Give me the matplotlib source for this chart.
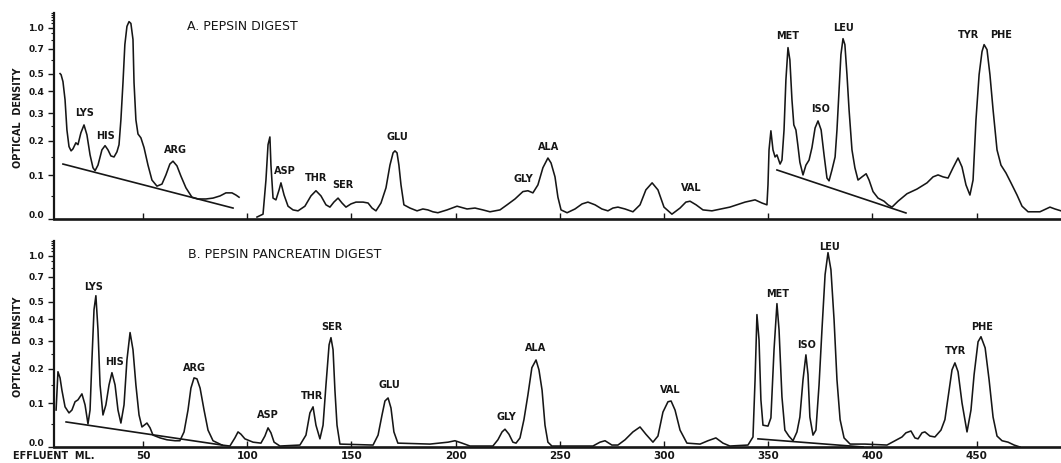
import numpy as np
import matplotlib
matplotlib.use("Agg")
import matplotlib.pyplot as plt
from matplotlib.transforms import ScaledTranslation

# ---------------- data (effluent ml, optical density) ----------------
top_ml_a = [10.2, 10.7, 11.6, 12.6, 13.5, 14.5, 15.5, 16.4, 17.8, 18.8, 20.2, 21.7, 23.1, 24.6, 26.0,
            27.0, 28.4, 30.3, 31.8, 33.2, 34.6, 36.1, 37.5, 38.5, 39.4, 40.4, 41.3, 42.3, 43.3, 44.2,
            45.2, 45.7, 46.6, 47.6, 49.0, 50.5, 52.4, 54.3, 56.7, 59.1, 61.0, 62.9, 64.4, 66.3, 68.2,
            70.6, 73.5, 76.4, 80.2, 83.6, 87.0, 89.8, 92.7, 94.6, 96.1]
top_od_a = [.501, .494, .452, .358, .236, .181, .168, .174, .193, .187, .226, .254, .219, .156, .120,
            .112, .127, .171, .184, .171, .153, .150, .165, .187, .273, .446, .747, 1.03, 1.15, 1.10,
            .81, .446, .273, .222, .209, .178, .127, .088, .073, .078, .101, .130, .138, .125, .098,
            .069, .047, .043, .043, .045, .050, .057, .057, .052, .047]

top_ml_b = [104.7, 107.6, 109.0, 110.0, 110.9, 111.4, 112.4, 113.8, 115.3, 116.2, 117.7, 119.6, 122.0,
            124.4, 127.7, 130.6, 133.0, 135.4, 137.8, 139.7, 141.6, 143.6, 145.5, 147.4, 149.8, 152.2,
            155.6, 158.0, 159.9, 161.8, 164.2, 166.6, 168.5, 170.0, 170.9, 171.9, 172.8, 173.8, 175.2,
            178.1, 181.5, 184.3, 186.7, 189.1, 191.5, 195.9, 200.7, 205.5, 209.3, 213.1, 216.5, 221.3,
            224.7, 228.5, 232.3, 234.7, 237.1, 239.5, 241.9, 244.3, 245.8, 247.7, 249.1, 250.6, 253.5,
            257.3, 260.7, 263.5, 266.9, 270.2, 273.1, 275.5, 277.9, 281.3, 285.1, 288.5, 291.3, 294.3,
            297.1, 300.0, 303.8, 307.7, 310.5, 312.5, 315.4, 318.7, 323.0, 331.6, 338.9, 343.7, 347.0,
            349.4, 349.9, 350.4, 351.3, 352.3, 353.3, 354.2, 355.7, 356.6, 357.6, 358.5, 359.5, 360.4,
            361.4, 362.3, 363.3, 364.2, 365.2, 366.7, 368.1, 369.6, 371.0, 372.5, 373.9, 375.4, 376.8,
            378.2, 379.2, 380.6, 382.1, 383.0, 384.0, 384.9, 385.9, 386.8, 387.8, 388.8, 390.2, 391.6,
            393.1, 395.0, 397.0, 398.4, 400.3, 402.7, 405.6, 407.5, 409.4, 412.3, 416.6, 421.4, 426.2,
            429.1, 431.5, 433.9, 436.3, 438.7, 441.1, 443.0, 444.9, 446.8, 448.3, 449.7, 451.2, 452.6,
            453.6, 455.0, 456.4, 457.9, 459.8, 461.7, 464.1, 466.5, 469.4, 471.8, 474.7, 480.4, 483.3,
            485.2, 487.6, 490.5]
top_od_b = [.004, .010, .088, .187, .212, .127, .045, .041, .064, .081, .052, .027, .019,
            .017, .027, .050, .062, .050, .030, .025, .036, .045, .034, .025, .032, .036,
            .036, .034, .023, .017, .034, .069, .127, .162, .168, .162, .127, .076, .030,
            .023, .017, .021, .019, .015, .013, .019, .027, .021, .023, .019, .015, .019,
            .030, .043, .060, .062, .057, .076, .120, .147, .133, .096, .047, .019, .013,
            .021, .032, .036, .030, .021, .017, .023, .025, .021, .015, .030, .064, .081,
            .064, .025, .010, .023, .036, .038, .030, .019, .017, .025, .036, .041, .034,
            .030, .076, .171, .233, .171, .150, .156, .130, .141, .236, .462, .714, .601,
            .358, .254, .236, .187, .135, .101, .127, .141, .178, .243, .269, .236, .156,
            .093, .086, .114, .150, .236, .408, .646, .821, .747, .494, .314, .171, .120,
            .088, .096, .104, .088, .060, .045, .038, .030, .025, .038, .055, .066, .081,
            .096, .101, .096, .093, .120, .147, .122, .076, .052, .088, .273, .494, .674,
            .747, .693, .494, .314, .171, .127, .106, .081, .052, .027, .015, .015, .021,
            .025, .021, .017]

bot_ml = [8.3, 9.2, 10.2, 11.1, 12.6, 14.5, 15.9, 17.4, 18.8, 20.7, 22.2, 23.6, 24.6, 25.5, 26.5,
          27.4, 28.4, 29.4, 30.8, 32.2, 33.7, 35.1, 36.6, 38.0, 39.4, 40.9, 42.3, 43.8, 45.2, 46.6,
          48.1, 49.5, 51.9, 53.4, 54.8, 58.2, 61.5, 65.4, 67.7, 69.7, 71.6, 73.0, 74.5, 75.9, 77.4,
          79.3, 81.2, 83.6, 87.9, 91.7, 94.1, 95.6, 97.0, 98.9, 102.8, 106.6, 108.5, 110.0, 111.4,
          112.9, 115.7, 125.3, 128.2, 130.1, 131.6, 133.0, 134.9, 136.4, 137.8, 139.3, 140.2, 141.2,
          142.1, 143.1, 144.5, 160.4, 162.8, 164.7, 166.1, 167.6, 169.0, 170.4, 172.3, 187.7, 196.4,
          199.7, 203.1, 206.9, 217.9, 220.3, 222.3, 223.7, 225.6, 227.5, 229.0, 230.9, 232.8, 234.7,
          236.6, 238.6, 240.0, 241.5, 242.9, 244.3, 246.2, 265.9, 269.3, 271.7, 275.0, 277.9, 281.3,
          285.1, 288.5, 291.3, 294.7, 297.1, 299.5, 301.9, 303.4, 305.3, 307.7, 311.0, 317.3, 321.1,
          324.9, 328.3, 331.6, 340.3, 342.7, 343.7, 344.6, 345.6, 346.5, 347.5, 349.9, 351.3, 352.8,
          354.2, 355.2, 356.6, 358.0, 359.9, 361.9, 363.8, 365.2, 366.7, 368.1, 369.1, 370.0, 371.5,
          372.9, 374.4, 375.8, 377.3, 378.7, 380.1, 381.6, 383.0, 384.5, 386.4, 389.3, 396.4, 407.0,
          410.8, 414.2, 416.1, 418.5, 420.4, 421.9, 423.8, 425.2, 427.6, 430.0, 432.9, 434.8, 436.8,
          438.2, 439.6, 441.1, 443.0, 445.4, 447.3, 448.8, 450.7, 452.1, 454.1, 456.0, 457.9, 459.8,
          462.2, 465.1, 468.0, 470.8]
bot_od = [.083, .190, .171, .135, .091, .076, .083, .104, .109, .125, .096, .050, .083, .229, .452,
          .541, .349, .150, .071, .096, .150, .187, .150, .083, .052, .096, .229, .336, .266, .150,
          .071, .043, .052, .041, .025, .019, .015, .013, .013, .032, .083, .141, .171, .168, .141,
          .083, .036, .013, .004, .002, .019, .032, .027, .017, .010, .008, .023, .041, .030,
          .010, .002, .004, .025, .076, .091, .047, .017, .047, .150, .285, .314, .266,
          .135, .047, .006, .004, .025, .071, .106, .114, .088, .032, .008, .006, .010,
          .013, .008, .002, .002, .015, .032, .038, .027, .010, .008, .019, .060, .122,
          .203, .229, .196, .135, .047, .010, .002, .002, .010, .013, .004, .004, .015,
          .032, .043, .027, .010, .023, .078, .104, .106, .083, .036, .008, .006, .013,
          .019, .008, .002, .004, .021, .165, .424, .305, .109, .047, .045, .064, .266,
          .488, .349, .117, .036, .023, .013, .032, .066, .165, .247, .181, .066, .025,
          .036, .150, .349, .725, 1.07, .782, .398, .165, .060, .019, .006, .006, .004,
          .013, .021, .030, .034, .019, .017, .030, .032, .023, .021, .036, .060, .135,
          .196, .219, .190, .101, .032, .083, .181, .297, .318, .273, .165, .066, .023,
          .013, .010, .004, 0.0]

# drawn-in baselines (straight lines under peak groups)
top_base_ml = [[11.6, 93.2], [354.2, 416.1]]
top_base_od = [[0.130, 0.023], [0.114, 0.0125]]
bot_base_ml = [[13.1, 87.9], [345.1, 395.5]]
bot_base_od = [[0.0545, 0.004], [0.017, 0.0]]

# peak labels
top_labels = ["LYS", "HIS", "ARG", "ASP", "THR", "SER", "GLU", "GLY", "ALA", "VAL",
              "MET", "ISO", "LEU", "TYR", "PHE"]
top_label_ml = [22.2, 32.2, 65.8, 118.1, 133.0, 146.0, 171.9, 232.3, 244.8, 312.9,
                359.5, 375.3, 385.9, 446.3, 461.7]
top_label_od = [.301, .215, .171, .112, .093, .076, .212, .091, .181, .069,
                .864, .318, 1.0, .879, .879]
bot_labels = ["LYS", "HIS", "ARG", "ASP", "THR", "SER", "GLU", "GLY", "ALA", "VAL",
              "MET", "ISO", "LEU", "TYR", "PHE"]
bot_label_ml = [26.5, 36.1, 74.9, 110.0, 131.1, 140.7, 168.0, 224.2, 238.6, 302.9,
                354.7, 368.6, 379.2, 440.1, 452.6]
bot_label_od = [.610, .222, .203, .071, .120, .363, .150, .066, .273, .135,
                .556, .285, 1.246, .262, .363]

od_ticks = [0.0, 0.1, 0.2, 0.3, 0.4, 0.5, 0.7, 1.0]
od_tick_labels = ["0.0", "0.1", "0.2", "0.3", "0.4", "0.5", "0.7", "1.0"]
od_minor = [0.05, 0.15, 0.25, 0.6, 0.8, 0.9, 1.1, 1.2, 1.3, 1.4, 1.5]
ml_ticks = [50, 100, 150, 200, 250, 300, 350, 400, 450]
ml_tick_labels = ["50", "100", "150", "200", "250", "300", "350", "400", "450"]

assert len(top_ml_a) == len(top_od_a)
assert len(top_ml_b) == len(top_od_b), (len(top_ml_b), len(top_od_b))
assert len(bot_ml) == len(bot_od), (len(bot_ml), len(bot_od))


# recorder scale: pen deflection is linear in absorbed fraction 1 - 10^-OD
def fwd(x):
    x = np.asarray(x, dtype=float)
    return 1.0 - np.power(10.0, -x)


def inv(y):
    y = np.clip(np.asarray(y, dtype=float), None, 0.99999)
    return -np.log10(1.0 - y)


INK = "#161616"
W, H = 1061, 463
fig = plt.figure(figsize=(W / 100, H / 100), dpi=100)
fig.patch.set_facecolor("white")

left = 54 / W
width = 1 - left
ax_h = 206 / H
ax_top = fig.add_axes([left, 1 - 219 / H, width, ax_h])
ax_bot = fig.add_axes([left, 1 - 447 / H, width, ax_h])


def style(ax, show_xlabels):
    ax.set_yscale("function", functions=(fwd, inv))
    ax.set_xlim(7.3, 490.5)
    ax.set_ylim(0, 1.52)
    ax.patch.set_alpha(0)
    for s in ("top", "right"):
        ax.spines[s].set_visible(False)
    ax.spines["left"].set_linewidth(1.6)
    ax.spines["bottom"].set_linewidth(1.9)
    ax.spines["left"].set_color(INK)
    ax.spines["bottom"].set_color(INK)
    ax.set_yticks(od_ticks, od_tick_labels, fontsize=6.5, fontweight="bold", color=INK)
    ax.set_yticks(od_minor, minor=True)
    ax.tick_params(axis="y", which="major", direction="out", length=4, width=1.0,
                   pad=3, color=INK)
    ax.tick_params(axis="y", which="minor", direction="out", length=2.5, width=0.8,
                   color=INK)
    if show_xlabels:
        ax.set_xticks(ml_ticks, ml_tick_labels, fontsize=7.5, fontweight="bold", color=INK)
    else:
        ax.set_xticks(ml_ticks)
    ax.tick_params(axis="x", which="major", direction="in", length=4, width=1.0,
                   pad=3, color=INK, labelbottom=show_xlabels)
    ax.tick_params(axis="x", which="minor", length=0)
    # the "0.0" label sits a little above its tick in the original
    zero_lbl = ax.yaxis.get_major_ticks()[0].label1
    zero_lbl.set_transform(zero_lbl.get_transform()
                           + ScaledTranslation(0, 5 / 100, fig.dpi_scale_trans))


style(ax_top, False)
style(ax_bot, True)

# curves
ax_top.plot(top_ml_a, top_od_a, color=INK, lw=1.15, solid_joinstyle="round")
ax_top.plot(top_ml_b, top_od_b, color=INK, lw=1.15, solid_joinstyle="round")
ax_bot.plot(bot_ml, bot_od, color=INK, lw=1.15, solid_joinstyle="round")

for xs, ys in zip(top_base_ml, top_base_od):
    ax_top.plot(xs, ys, color=INK, lw=1.2)
for xs, ys in zip(bot_base_ml, bot_base_od):
    ax_bot.plot(xs, ys, color=INK, lw=1.2)

for t, x, y in zip(top_labels, top_label_ml, top_label_od):
    ax_top.text(x, y, t, ha="center", va="center", fontsize=7, fontweight="bold", color=INK)
for t, x, y in zip(bot_labels, bot_label_ml, bot_label_od):
    ax_bot.text(x, y, t, ha="center", va="center", fontsize=7, fontweight="bold", color=INK)

ax_top.text(71.1, 1.03, "A. PEPSIN DIGEST", ha="left", va="center", fontsize=9, color=INK)
ax_bot.text(71.6, 1.03, "B. PEPSIN PANCREATIN DIGEST", ha="left", va="center", fontsize=9,
            color=INK)

fig.text(18 / W, 1 - 118 / H, "OPTICAL  DENSITY", rotation=90, ha="center", va="center",
         fontsize=7, fontweight="bold", color=INK)
fig.text(18 / W, 1 - 347 / H, "OPTICAL  DENSITY", rotation=90, ha="center", va="center",
         fontsize=7, fontweight="bold", color=INK)
fig.text(13 / W, 1 - 456 / H, "EFFLUENT  ML.", ha="left", va="center",
         fontsize=7, fontweight="bold", color=INK)

fig.savefig("out.png", dpi=100, facecolor="white")
